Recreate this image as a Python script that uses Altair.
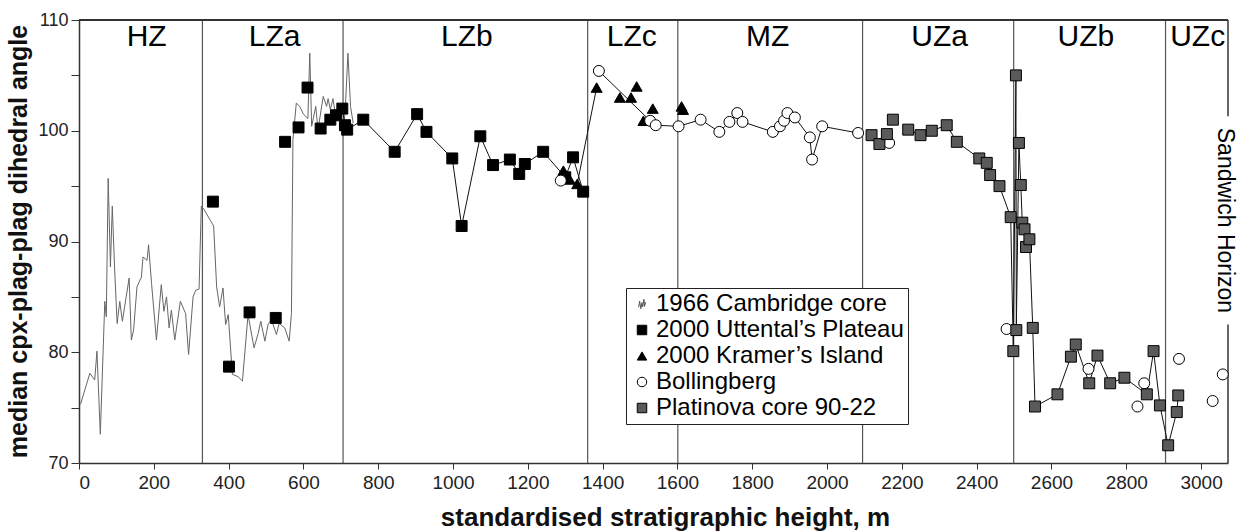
import altair as alt
import pandas as pd

FONT = "Liberation Sans"
TICK_FONT = "'Liberation Sans Narrow', 'Liberation Sans', Arial, sans-serif"

# ---------------- data ----------------
X_MAX = 3072
TICK_X = list(range(0, 3001, 200))
TICK_Y = [70, 75, 80, 85, 90, 95, 100, 105, 110]

ZONE_BOUNDS = [330, 706, 1360, 1601, 2095, 2499, 2905]
ZONE_NAMES = ["HZ", "LZa", "LZb", "LZc", "MZ", "UZa", "UZb", "UZc"]
ZONE_MID = [181, 523, 1037, 1478, 1841, 2301, 2692, 2991]
ZONE_LABEL_Y = 108.5

SH_LABEL = "Sandwich Horizon"
SH_LABEL_X = 3064
SH_LABEL_Y = 91.9
SH_SEG_LO = [101.3, 70]
SH_SEG_HI = [110, 82.5]

# 1966 Cambridge core (thin line)
CAM_X = [4, 29, 42, 48, 57, 69, 73, 78, 84, 89, 95, 102, 109, 116, 134, 140, 146, 155, 167, 171,
         182, 186, 194, 207, 220, 227, 234, 241, 247, 256, 271, 285, 293, 305, 312, 321, 327, 334, 360, 368,
         376, 385, 392, 399, 410, 425, 437, 452, 468, 479, 486, 497, 506, 515, 528, 535, 550, 562, 568, 572,
         581, 590, 600, 612, 617, 622, 633, 639, 653, 662, 666, 672, 679, 685, 697, 706, 712, 719, 726, 733]
CAM_Y = [75.3, 78.1, 77.5, 80.1, 72.6, 84.6, 83.2, 95.7, 87.7, 93.2, 87.7, 82.6, 84.6, 82.8, 86.7, 81.1, 82.0, 85.9, 86.8, 88.6,
         88.3, 89.7, 86.2, 81.1, 86.1, 83.7, 85.0, 82.2, 83.8, 81.1, 84.6, 83.5, 79.8, 85.0, 85.6, 85.7, 93.2, 92.9, 91.4, 85.9,
         84.1, 85.8, 82.5, 83.4, 78.0, 77.8, 77.4, 83.4, 80.4, 81.7, 82.8, 81.0, 82.6, 82.9, 81.6, 82.6, 82.2, 81.0, 83.5, 99.2,
         102.5, 102.2, 101.5, 101.1, 107.0, 100.4, 102.2, 100.1, 103.1, 102.2, 102.9, 101.9, 102.9, 101.6, 101.6, 99.5, 102.0, 107.0, 102.2, 100.7]

# 2000 Uttental's Plateau
UTT_X = [358, 401, 456, 526, 551, 587, 611, 646, 672, 687, 704, 711, 717, 760, 844, 904, 929, 998, 1023, 1073,
         1107, 1152, 1177, 1192, 1241, 1300, 1321, 1348]
UTT_Y = [93.6, 78.7, 83.6, 83.1, 99.0, 100.3, 103.9, 100.2, 101.0, 101.4, 102.0, 100.5, 100.1, 101.0, 98.1, 101.5, 99.9, 97.5, 91.4, 99.5,
         96.9, 97.4, 96.1, 97.0, 98.1, 95.8, 97.6, 94.5]
UTT_JOIN = [0] * 10 + [1] * 18

# 2000 Kramer's Island
KRA_X = [1295, 1312, 1332, 1384, 1446, 1476, 1491, 1509, 1534, 1611, 1615]
KRA_Y = [96.4, 95.6, 95.2, 103.9, 103.0, 103.0, 104.0, 100.9, 102.0, 102.2, 101.9]
KRA_JOIN = [1] * 4 + [0] * 7

# Bollingberg
BOL_X = [1288, 1390, 1527, 1542, 1603, 1662, 1712, 1739, 1760, 1774, 1855, 1874, 1885, 1894, 1914, 1954, 1960, 1987, 2083,
         2166, 2480, 2699, 2830, 2848, 2941, 3031, 3058]
BOL_Y = [95.5, 105.4, 100.9, 100.5, 100.4, 101.0, 99.9, 100.8, 101.6, 100.8, 99.9, 100.4, 100.9, 101.6, 101.2, 99.4, 97.4, 100.4, 99.8,
         98.9, 82.1, 78.5, 75.1, 77.2, 79.4, 75.6, 78.0]
BOL_JOIN = [0] + [1] * 18 + [0] * 8

# Platinova core 90-22
PLA_X = [2119, 2140, 2160, 2176, 2217, 2250, 2280, 2320, 2347, 2407, 2427, 2436, 2461, 2491, 2498, 2505, 2506, 2513, 2518, 2522,
         2528, 2532, 2541, 2550, 2556, 2616, 2652, 2665, 2701, 2723, 2757, 2795, 2855, 2873, 2890, 2912, 2935, 2939]
PLA_Y = [99.6, 98.8, 99.7, 101.0, 100.1, 99.6, 100.0, 100.5, 99.0, 97.5, 97.1, 96.0, 95.0, 92.2, 80.1, 105.0, 82.0, 98.9, 95.1, 91.7,
         91.1, 89.5, 90.2, 82.2, 75.1, 76.2, 79.6, 80.7, 77.2, 79.7, 77.2, 77.7, 76.2, 80.1, 75.2, 71.6, 74.6, 76.1]
PLA_JOIN = [0] * 4 + [1] * 34

SERIES = ["1966 Cambridge core", "2000 Uttental\u2019s Plateau", "2000 Kramer\u2019s Island",
          "Bollingberg", "Platinova core 90-22"]
ZIGZAG = "M-0.7,0.7L-0.5,-0.6L-0.25,1L0,-0.3L0.15,0.6L0.4,-1L0.55,0.5L0.75,-0.4"
SHAPES = [ZIGZAG, "square", "triangle-up", "circle", "square"]
FILLS = ["transparent", "#000000", "#000000", "#ffffff", "#5a5a5a"]
STROKES = ["#555555", "#000000", "#000000", "#000000", "#000000"]

# ---------------- tables ----------------
pts = []
lines = []
for name, xs, ys, js in [(SERIES[1], UTT_X, UTT_Y, UTT_JOIN),
                         (SERIES[2], KRA_X, KRA_Y, KRA_JOIN),
                         (SERIES[3], BOL_X, BOL_Y, BOL_JOIN),
                         (SERIES[4], PLA_X, PLA_Y, PLA_JOIN)]:
    for x, y, j in zip(xs, ys, js):
        pts.append({"series": name, "x": x, "y": y})
        if j:
            lines.append({"series": name, "x": x, "y": y})
pts_df = pd.DataFrame(pts)
lines_df = pd.DataFrame(lines)
cam_df = pd.DataFrame({"x": CAM_X, "y": CAM_Y})
zone_df = pd.DataFrame({"x": ZONE_BOUNDS})
zlab_df = pd.DataFrame({"x": ZONE_MID, "label": ZONE_NAMES, "y": [ZONE_LABEL_Y] * len(ZONE_NAMES)})
sh_df = pd.DataFrame({"x": [X_MAX] * 2, "y": SH_SEG_LO, "y2": SH_SEG_HI})
shlab_df = pd.DataFrame({"x": [SH_LABEL_X], "y": [SH_LABEL_Y], "label": [SH_LABEL]})

# ---------------- scales / axes ----------------
x_scale = alt.Scale(domain=[0, X_MAX], nice=False, zero=False)
y_scale = alt.Scale(domain=[70, 110], nice=False, zero=False)

x_axis = alt.Axis(values=TICK_X, format="d", title="standardised stratigraphic height, m", grid=False,
                  labelFont=TICK_FONT, labelFontSize=19, labelColor="#222", labelPadding=4,
                  tickSize=6, tickColor="#333", domainColor="#333", domainWidth=1.5,
                  titleFont=FONT, titleFontSize=26, titleFontWeight="bold", titleColor="#111",
                  titleX=586, titleY=54, titleBaseline="middle", titleAnchor="middle", titleAlign="center")
y_axis = alt.Axis(values=TICK_Y, format="d", title="median cpx-plag-plag dihedral angle", grid=False,
                  labelExpr="datum.value % 10 === 0 ? datum.label : ''",
                  labelFont=TICK_FONT, labelFontSize=18, labelColor="#222", labelPadding=3,
                  tickSize=8, tickColor="#333", domainColor="#333", domainWidth=1.5,
                  titleFont=FONT, titleFontSize=25, titleFontWeight="bold", titleColor="#111",
                  titleX=-61, titleY=221, titleBaseline="middle", titleAlign="center", titleAngle=-90)

X = alt.X("x:Q", scale=x_scale, axis=x_axis)
Y = alt.Y("y:Q", scale=y_scale, axis=y_axis)

leg = alt.Legend(orient="none", legendX=547, legendY=268, title=None,
                 labelFont=FONT, labelFontSize=24, labelColor="#000", labelLimit=500,
                 symbolSize=90, symbolStrokeWidth=1, strokeColor="#222", fillColor="#ffffff",
                 padding=4, rowPadding=2, labelOffset=2, cornerRadius=0)

# ---------------- layers ----------------
zone_rules = alt.Chart(zone_df).mark_rule(color="#555", strokeWidth=1.2).encode(x=X)
top_rule = alt.Chart(zone_df).mark_rule(color="#333", strokeWidth=1.5).encode(y=alt.datum(110))
sh_rules = alt.Chart(sh_df).mark_rule(color="#333", strokeWidth=1.5).encode(x=X, y=Y, y2="y2:Q")
sh_text = alt.Chart(shlab_df).mark_text(font=FONT, fontSize=23, angle=90, align="center",
                                         baseline="middle", color="#000").encode(x=X, y=Y, text="label:N")
zone_text = alt.Chart(zlab_df).mark_text(font=FONT, fontSize=30, align="center",
                                          baseline="middle", color="#000").encode(x=X, y=Y, text="label:N")
cam_line = alt.Chart(cam_df).mark_line(color="#666", strokeWidth=1).encode(x=X, y=Y)
join_lines = alt.Chart(lines_df).mark_line(color="#111", strokeWidth=1).encode(x=X, y=Y, detail="series:N")
points = alt.Chart(pts_df).mark_point(size=120, strokeWidth=1, opacity=1, fillOpacity=1).encode(
    x=X, y=Y,
    shape=alt.Shape("series:N", scale=alt.Scale(domain=SERIES, range=SHAPES), legend=leg),
    fill=alt.Fill("series:N", scale=alt.Scale(domain=SERIES, range=FILLS), legend=leg),
    stroke=alt.Stroke("series:N", scale=alt.Scale(domain=SERIES, range=STROKES), legend=leg),
)

chart = alt.layer(zone_rules, top_rule, sh_rules, cam_line, join_lines, points, zone_text, sh_text).properties(
    width=1149, height=443,
    autosize=alt.AutoSizeParams(type="none"),
    padding={"left": 79, "top": 20, "right": 10, "bottom": 69},
    background="white",
).configure_view(stroke=None)

chart.save("out.html", embed_options={"renderer": "svg", "actions": False})
